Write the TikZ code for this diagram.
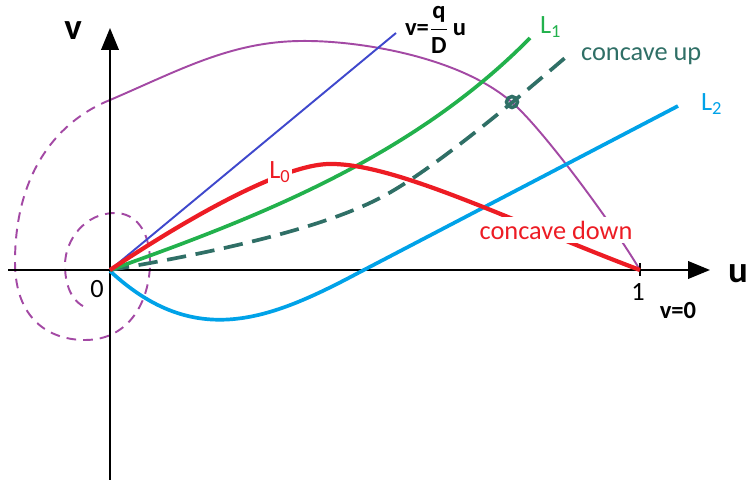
\documentclass[tikz,border=0pt]{standalone}
\usepackage{fontspec}
\setmainfont{Carlito}
\usetikzlibrary{arrows.meta}
\definecolor{lzero}{RGB}{237,28,36}
\definecolor{lone}{RGB}{34,177,76}
\definecolor{ltwo}{RGB}{0,162,232}
\definecolor{rayblue}{RGB}{63,72,204}
\definecolor{orbitpurple}{RGB}{163,73,164}
\definecolor{upteal}{RGB}{47,111,102}

\begin{document}
\begin{tikzpicture}[x=0.02cm,y=-0.02cm,>={Triangle[length=12.5pt,width=10pt]}]
\tikzset{axis/.style={draw=black,line width=1.1pt}, lab/.style={font=\fontsize{15}{18}\selectfont,inner sep=1pt},
  blab/.style={font=\fontsize{14}{16}\selectfont\bfseries,inner sep=1pt}, curve/.style={line width=2.1pt}}
\useasboundingbox (0,0) rectangle (748,480);
\coordinate (O) at (110,270);
\coordinate (E) at (640,270);
% orbit
\draw[orbitpurple,line width=1.1pt] (110,100) .. controls (180,70) and (230,42) .. (300,41)
  .. controls (360,40) and (470,58) .. (520,110) .. controls (550,140) and (610,220) .. (E);
\draw[orbitpurple,line width=1.1pt,dash pattern=on 5.5pt off 4pt] (110,100) .. controls (60,120) and (15,170) .. (15,262)
  .. controls (15,320) and (50,340) .. (85,340) .. controls (130,340) and (150,300) .. (150,262)
  .. controls (150,230) and (135,213) .. (115,213) .. controls (85,213) and (65,240) .. (65,265)
  .. controls (65,290) and (75,303) .. (85,307);
% axes
\draw[axis,->] (8,270) -- (710,270);
\draw[axis,->] (110,480) -- (110,28);
\draw[axis] (640,263) -- (640,276);
\node[lab,font=\fontsize{21}{24}\selectfont\bfseries] (ulab) at (738,274) {u};
\node[lab,font=\fontsize{21}{24}\selectfont\bfseries] (vlab) at (73,31) {v};
\node[lab] (zero) at (97,289) {0};
\node[lab] (one) at (638,292) {1};
\node[blab] (vzero) at (678,311) {v=0};
% ray v = q/D u
\coordinate (rayend) at (396,33);
\draw[rayblue,line width=1.1pt] (O) -- (rayend);
\node[blab,anchor=west] (raylab) at (403,30) {v=$\displaystyle\frac{\textbf{q}}{\textbf{D}}$\,u};
% L2
\draw[ltwo,curve] (110,271) .. controls (195,350) and (270,320) .. (360,272) -- (678,106);
\node[lab,ltwo,anchor=west] (Ltwo) at (699,104) {L\textsubscript{2}};
% concave up
\draw[upteal,curve,dash pattern=on 11pt off 5.5pt] (O) .. controls (230,250) and (326,226) .. (380,198)
  .. controls (430,172) and (510,105) .. (566,57);
\draw[upteal,line width=2pt] (512,102) circle (5.5);
\node[lab,upteal,anchor=west] (uplab) at (579,56) {concave up};
% L1
\draw[lone,curve] (O) .. controls (250,220) and (410,160) .. (530,38);
\node[lab,lone,anchor=west] (Lone) at (538,27) {L\textsubscript{1}};
% L0
\draw[lzero,line width=2.4pt] (O) .. controls (200,210) and (290,162) .. (333,164)
  .. controls (400,165) and (520,225) .. (E);
\node[lab,lzero,fill=white] (Lzero) at (280,172) {L\textsubscript{0}};
\node[lab,lzero,fill=white,inner sep=2pt] (downlab) at (556,230) {concave down};
\end{tikzpicture}
\end{document}
